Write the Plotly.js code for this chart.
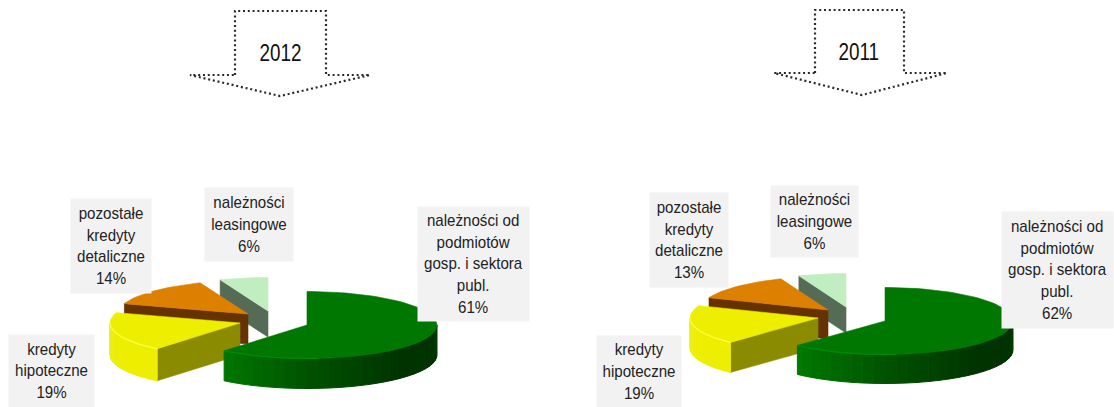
<!DOCTYPE html>
<html>
<head>
<meta charset="utf-8">
<script src="https://cdn.plot.ly/plotly-3.0.1.min.js"></script>
<style>
html,body{margin:0;padding:0;background:#fff}
#chart{width:1114px;height:407px}
.annotation text{transform-box:fill-box;transform-origin:center}
</style>
</head>
<body>
<div id="chart"></div>
<script>
// ---- data ----
const labels2012 = ['należności od<br>podmiotów<br>gosp. i sektora<br>publ.', 'kredyty<br>hipoteczne', 'pozostałe<br>kredyty<br>detaliczne', 'należności<br>leasingowe'];
const labels2011 = labels2012;
const values2012 = [61, 19, 14, 6];
const values2011 = [62, 19, 13, 6];
const years = ['2012', '2011'];

// ---- presentation ----
const topColors = ['#007700', '#eeee00', '#dd8000', '#c0eec0'];
const sideColors = [null, '#8b8b00', '#663300', '#556b55'];
const rimColors = ['#008c00', '#ffff40', null, null];
const greenShade = [[90, '#003f00'], [105, '#003300'], [135, '#003300'], [160, '#004400'], [180, '#005200'], [200, '#006600'], [225, '#007c00']];
const yellowShade = [[215, '#eeee00'], [250, '#eeee00'], [272, '#eded20']];
const wallShades = [greenShade, yellowShade, null, null];
const fontFamily = '"Liberation Sans", Arial, sans-serif';

const pies = [
  { values: values2012, labels: labels2012, rx: 130, ry: 33.5, depth: [30, 32, 30, 26],
    apex: [[307, 325], [240, 323], [248, 314], [268, 311]],
    boxes: [[418, 207, 529, 321], [9, 335, 94, 407], [71, 199, 151, 293], [205, 188, 293, 261]],
    arrow: { l: 235, r: 326, t: 11, w: 75, wl: 190, wr: 370, tx: 280, ty: 96, cx: 280, cy: 53 } },
  { values: values2011, labels: labels2011, rx: 128, ry: 33.5, depth: [29, 30, 29, 26],
    apex: [[885, 321], [818, 318], [828, 310], [846, 307]],
    boxes: [[1002, 212, 1113, 328], [597, 336, 681, 407], [650, 193, 728, 287], [771, 186, 858, 257]],
    arrow: { l: 815, r: 904, t: 10, w: 73, wl: 774, wr: 947, tx: 862, ty: 95, cx: 858, cy: 52 } }
];

function hexToRgb(h) { return [1, 3, 5].map(i => parseInt(h.substr(i, 2), 16)); }
function shadeAt(stops, a) {
  for (let i = 0; i < stops.length - 1; i++) {
    if (a <= stops[i + 1][0]) {
      const t = Math.max(0, (a - stops[i][0]) / (stops[i + 1][0] - stops[i][0]));
      const c0 = hexToRgb(stops[i][1]), c1 = hexToRgb(stops[i + 1][1]);
      return 'rgb(' + c0.map((v, k) => Math.round(v + (c1[k] - v) * t)).join(',') + ')';
    }
  }
  return stops[stops.length - 1][1];
}
function polar(c, rx, ry, a) {
  const r = a * Math.PI / 180;
  return [c[0] + rx * Math.sin(r), c[1] - ry * Math.cos(r)];
}
function arc(c, rx, ry, a0, a1) {
  const n = Math.max(1, Math.ceil(Math.abs(a1 - a0) / 2.5));
  const out = [];
  for (let i = 0; i <= n; i++) out.push(polar(c, rx, ry, a0 + (a1 - a0) * i / n));
  return out;
}
function poly(pts, color, w) {
  const p = pts.concat([pts[0]]);
  return { type: 'scatter', mode: 'lines', x: p.map(q => q[0]), y: p.map(q => q[1]), fill: 'toself',
    fillcolor: color, line: { color: color, width: w === undefined ? 0.6 : w }, hoverinfo: 'skip', showlegend: false };
}

const traces = [];
const annotations = [];
const shapes = [];

pies.forEach((pie, pi) => {
  const starts = [];
  let sum = 0;
  pie.values.forEach(v => { starts.push(sum * 3.6); sum += v; });
  for (let i = pie.values.length - 1; i >= 0; i--) {
    const a0 = starts[i], a1 = a0 + pie.values[i] * 3.6, c = pie.apex[i], d = pie.depth[i];
    const down = q => [q[0], q[1] + d];
    // straight cut wall on the counter-clockwise edge, when it faces the viewer
    if (sideColors[i]) {
      const e = polar(c, pie.rx, pie.ry, a0);
      traces.push(poly([c, e, down(e), down(c)], sideColors[i]));
    }
    // curved front wall
    const f0 = Math.max(a0, 90), f1 = Math.min(a1, 270);
    if (f1 > f0 && wallShades[i]) {
      const step = 5;
      for (let a = f0; a < f1; a += step) {
        const b = Math.min(a + step, f1);
        const seg = arc(c, pie.rx, pie.ry, a, b);
        traces.push(poly(seg.concat(seg.slice().reverse().map(down)), shadeAt(wallShades[i], (a + b) / 2), 1));
      }
    }
    // top surface
    traces.push(poly([c].concat(arc(c, pie.rx, pie.ry, a0, a1)), topColors[i]));
    // light rim at the front-left of the surface
    if (rimColors[i]) {
      const rim = arc(c, pie.rx, pie.ry, i === 0 ? 175 : f0, f1);
      traces.push({ type: 'scatter', mode: 'lines', x: rim.map(q => q[0]), y: rim.map(q => q[1]),
        line: { color: rimColors[i], width: 1.2 }, hoverinfo: 'skip', showlegend: false });
    }
    // label box
    const b = pie.boxes[i];
    annotations.push({ xref: 'x', yref: 'y', x: (b[0] + b[2]) / 2, y: (b[1] + b[3]) / 2, xanchor: 'center', yanchor: 'middle',
      text: pie.labels[i] + '<br>' + pie.values[i] + '%', showarrow: false, align: 'center', valign: 'middle',
      width: b[2] - b[0], height: b[3] - b[1], bgcolor: '#f2f2f2', borderpad: 0,
      font: { family: fontFamily, size: 16.6, color: '#222222' } });
  }
  // dotted arrow with year
  const A = pie.arrow;
  shapes.push({ type: 'path', xref: 'x', yref: 'y',
    path: `M${A.l},${A.w} L${A.l},${A.t} L${A.r},${A.t} L${A.r},${A.w} L${A.wr},${A.w} L${A.tx},${A.ty} L${A.wl},${A.w} Z`,
    line: { color: '#2a2a2a', width: 2.2, dash: '2px,2.8px' }, fillcolor: 'rgba(0,0,0,0)' });
  annotations.push({ xref: 'x', yref: 'y', x: A.cx, y: A.cy, xanchor: 'center', yanchor: 'middle', text: years[pi],
    showarrow: false, font: { family: fontFamily, size: 23, color: '#111111' } });
});

Plotly.newPlot('chart', traces, {
  width: 1114, height: 407, margin: { l: 0, r: 0, t: 0, b: 0 },
  paper_bgcolor: '#ffffff', plot_bgcolor: '#ffffff', showlegend: false, hovermode: false,
  xaxis: { range: [0, 1114], visible: false, fixedrange: true },
  yaxis: { range: [407, 0], visible: false, fixedrange: true },
  annotations: annotations, shapes: shapes
}, { displayModeBar: false, staticPlot: true }).then(gd => {
  // the reference type is a condensed grotesque: condense the real text horizontally
  gd.querySelectorAll('.annotation text').forEach(t => {
    const isYear = years.includes(t.textContent.trim());
    t.style.transform = isYear ? 'scaleX(0.82)' : 'scaleX(0.91)';
  });
});
</script>
</body>
</html>
